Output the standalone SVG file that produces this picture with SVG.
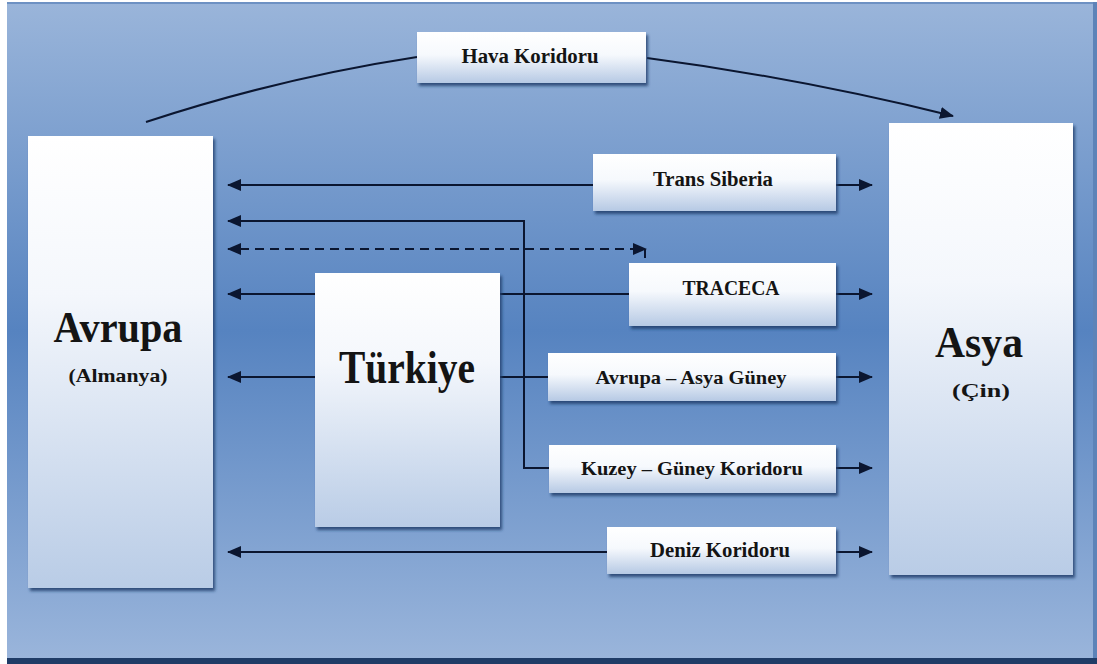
<svg xmlns="http://www.w3.org/2000/svg" width="1097" height="664" viewBox="0 0 1097 664">
  <style>
    .lbl { font-family: "Liberation Serif", "Times New Roman", serif; font-weight: bold; fill: #141414; text-anchor: middle; }
    .conn { fill: none; stroke: #0b1630; stroke-width: 2; }
    .dash { stroke-dasharray: 9 6; }
  </style>
  <defs>
    <linearGradient id="bg" x1="0" y1="0" x2="0" y2="1">
      <stop offset="0" stop-color="#9ab5da"/>
      <stop offset="0.5" stop-color="#5683c0"/>
      <stop offset="1" stop-color="#9ab5db"/>
    </linearGradient>
    <linearGradient id="bigBox" x1="0" y1="0" x2="0" y2="1">
      <stop offset="0" stop-color="#ffffff"/>
      <stop offset="0.35" stop-color="#f4f7fc"/>
      <stop offset="1" stop-color="#b9cce6"/>
    </linearGradient>
    <linearGradient id="smallBox" x1="0" y1="0" x2="0" y2="1">
      <stop offset="0" stop-color="#ffffff"/>
      <stop offset="0.45" stop-color="#f6f9fd"/>
      <stop offset="1" stop-color="#b6c9e4"/>
    </linearGradient>
    <filter id="shadow" x="-10%" y="-10%" width="125%" height="130%">
      <feGaussianBlur in="SourceAlpha" stdDeviation="1.5"/>
      <feOffset dx="2" dy="3" result="off"/>
      <feFlood flood-color="#213f6c" flood-opacity="0.85"/>
      <feComposite in2="off" operator="in"/>
      <feMerge>
        <feMergeNode/>
        <feMergeNode in="SourceGraphic"/>
      </feMerge>
    </filter>
    <marker id="arrow" viewBox="0 0 14 12" refX="13" refY="6" markerWidth="14" markerHeight="12" markerUnits="userSpaceOnUse" orient="auto-start-reverse">
      <path d="M0,0 L14,6 L0,12 Z" fill="#0b1630"/>
    </marker>
  </defs>

  <!-- backdrop panel -->
  <rect x="0" y="0" width="1097" height="664" fill="#ffffff"/>
  <rect x="7" y="2" width="1089" height="658" fill="url(#bg)"/>
  <rect x="7" y="2" width="1089" height="2" fill="#6d91c3"/>
  <rect x="1093" y="2" width="4" height="658" fill="#5d83b8"/>
  <rect x="7" y="658" width="1090" height="6" fill="#1f3c67"/>

  <!-- connectors -->
  <g id="connectors">
    <!-- air corridor arc -->
    <path class="conn" d="M146,122 Q280,78 417,57"/>
    <path class="conn" d="M647,58 Q800,78 953,116" marker-end="url(#arrow)"/>
    <!-- Trans Siberia -->
    <path class="conn" d="M593,185 H228" marker-end="url(#arrow)"/>
    <path class="conn" d="M836,185 H872" marker-end="url(#arrow)"/>
    <!-- North-South branch from Europe -->
    <path class="conn" d="M549,468 H524 V221 H228" marker-end="url(#arrow)"/>
    <!-- dashed link -->
    <path class="conn dash" d="M645,273 V249 H228" marker-end="url(#arrow)"/>
    <path d="M633,243 L647,249 L633,255 Z" fill="#0b1630"/>
    <!-- TRACECA -->
    <path class="conn" d="M315,294 H228" marker-end="url(#arrow)"/>
    <path class="conn" d="M500,294 H629"/>
    <path class="conn" d="M836,294 H872" marker-end="url(#arrow)"/>
    <!-- Europe - Asia South -->
    <path class="conn" d="M315,377 H228" marker-end="url(#arrow)"/>
    <path class="conn" d="M500,377 H548"/>
    <path class="conn" d="M836,377 H872" marker-end="url(#arrow)"/>
    <!-- North - South -->
    <path class="conn" d="M836,468 H872" marker-end="url(#arrow)"/>
    <!-- Sea corridor -->
    <path class="conn" d="M607,552 H228" marker-end="url(#arrow)"/>
    <path class="conn" d="M836,552 H872" marker-end="url(#arrow)"/>
  </g>

  <!-- nodes -->
  <g id="avrupa">
    <rect x="28" y="136" width="185" height="452" fill="url(#bigBox)" filter="url(#shadow)"/>
    <text class="lbl" x="118" y="342" font-size="44" textLength="129" lengthAdjust="spacingAndGlyphs">Avrupa</text>
    <text class="lbl" x="118" y="382" font-size="19" textLength="99" lengthAdjust="spacingAndGlyphs">(Almanya)</text>
  </g>

  <g id="asya">
    <rect x="889" y="123" width="184" height="452" fill="url(#bigBox)" filter="url(#shadow)"/>
    <text class="lbl" x="979" y="357" font-size="44" textLength="88" lengthAdjust="spacingAndGlyphs">Asya</text>
    <text class="lbl" x="981" y="397" font-size="19" textLength="58" lengthAdjust="spacingAndGlyphs">(Çin)</text>
  </g>

  <g id="turkiye">
    <rect x="315" y="273" width="185" height="254" fill="url(#bigBox)" filter="url(#shadow)"/>
    <text class="lbl" x="407" y="383" font-size="46" textLength="136" lengthAdjust="spacingAndGlyphs">Türkiye</text>
  </g>

  <g id="hava">
    <rect x="417" y="32" width="229" height="51" fill="url(#smallBox)" filter="url(#shadow)"/>
    <text class="lbl" x="530" y="63" font-size="20" textLength="137" lengthAdjust="spacingAndGlyphs">Hava Koridoru</text>
  </g>

  <g id="trans-siberia">
    <rect x="593" y="154" width="243" height="57" fill="url(#smallBox)" filter="url(#shadow)"/>
    <text class="lbl" x="713" y="186" font-size="20" textLength="120" lengthAdjust="spacingAndGlyphs">Trans Siberia</text>
  </g>

  <g id="traceca">
    <rect x="629" y="263" width="207" height="63" fill="url(#smallBox)" filter="url(#shadow)"/>
    <text class="lbl" x="731" y="295" font-size="20" textLength="97" lengthAdjust="spacingAndGlyphs">TRACECA</text>
  </g>

  <g id="avrupa-asya-guney">
    <rect x="548" y="353" width="288" height="48" fill="url(#smallBox)" filter="url(#shadow)"/>
    <text class="lbl" x="691" y="384" font-size="19" textLength="191" lengthAdjust="spacingAndGlyphs">Avrupa – Asya Güney</text>
  </g>

  <g id="kuzey-guney">
    <rect x="549" y="445" width="287" height="48" fill="url(#smallBox)" filter="url(#shadow)"/>
    <text class="lbl" x="692" y="475" font-size="19" textLength="222" lengthAdjust="spacingAndGlyphs">Kuzey – Güney Koridoru</text>
  </g>

  <g id="deniz">
    <rect x="607" y="527" width="229" height="47" fill="url(#smallBox)" filter="url(#shadow)"/>
    <text class="lbl" x="720" y="557" font-size="20" textLength="140" lengthAdjust="spacingAndGlyphs">Deniz Koridoru</text>
  </g>
</svg>
